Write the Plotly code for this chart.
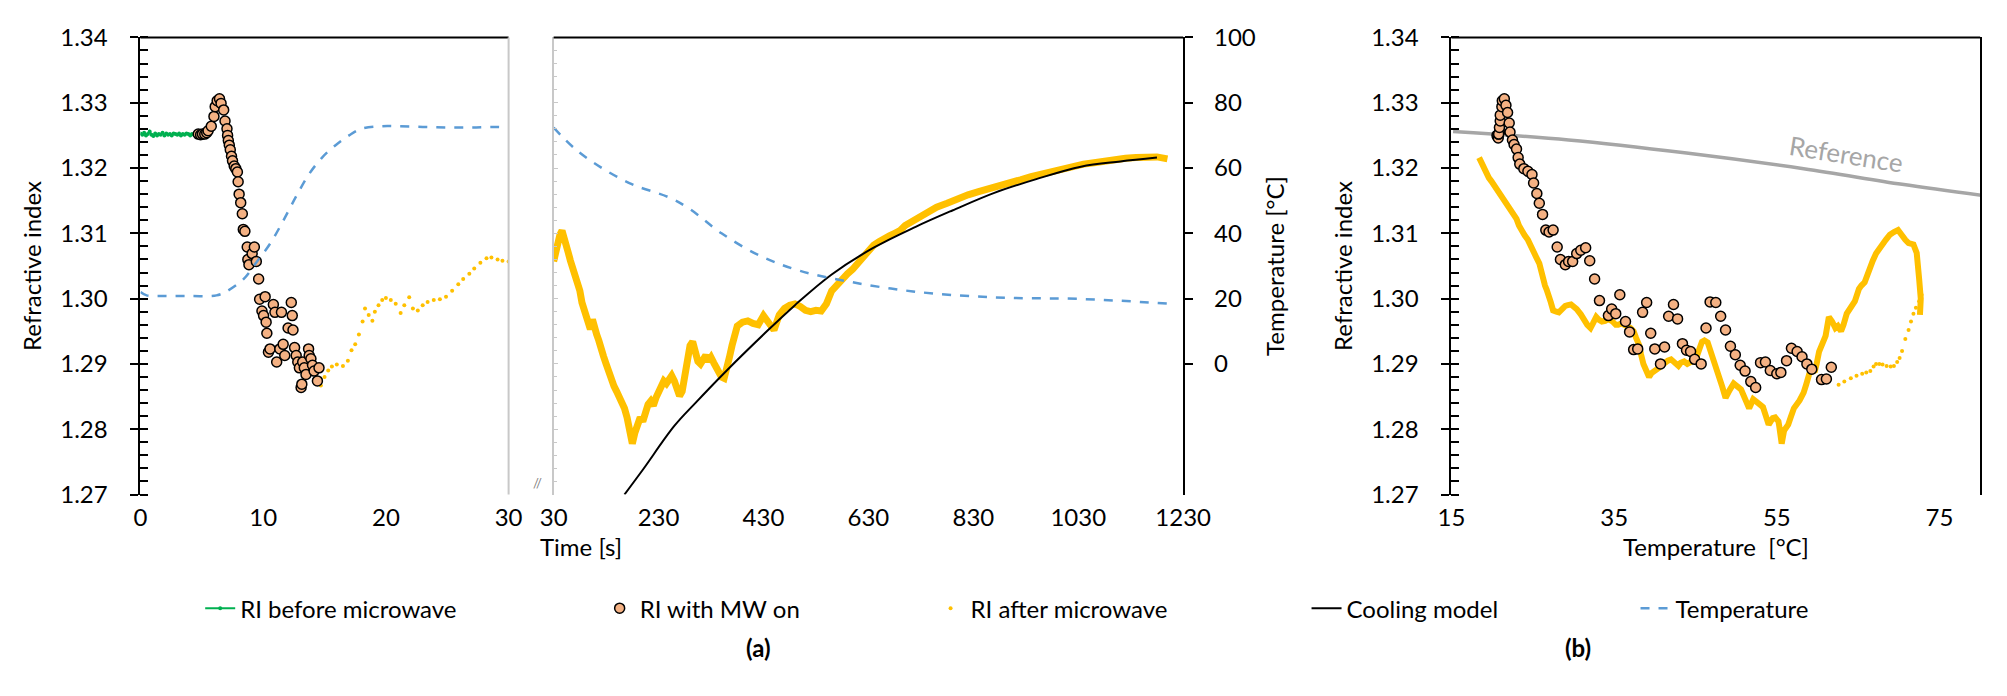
import plotly.graph_objects as go

W, H = 2007, 696

# ---------------- data ----------------
# Panel (a) left: time 0-30 s
t_before = [0.0, 0.15, 0.3, 0.45, 0.6, 0.75, 0.9, 1.05, 1.2, 1.35, 1.5, 1.65, 1.8, 1.95, 2.1, 2.25, 2.4,
            2.55, 2.7, 2.85, 3.0, 3.15, 3.3, 3.45, 3.6, 3.75, 3.9, 4.05, 4.2, 4.35, 4.5, 4.65, 4.8]
ri_before = [1.3253, 1.3251, 1.3254, 1.3250, 1.3252, 1.3256, 1.3251, 1.3249, 1.3253, 1.3250, 1.3252, 1.3251,
             1.3254, 1.3250, 1.3253, 1.3251, 1.3252, 1.3250, 1.3253, 1.3252, 1.3251, 1.3253, 1.3250, 1.3252,
             1.3251, 1.3253, 1.3252, 1.3250, 1.3252, 1.3251, 1.3253, 1.3251, 1.3252]

t_mw = [4.71, 4.9, 5.05, 5.24, 5.4, 5.51, 5.77, 5.99, 6.09, 6.25, 6.44, 6.57, 6.78, 6.89, 7.05, 7.10, 7.16,
        7.24, 7.32, 7.42, 7.50, 7.64, 7.77, 7.90, 7.96, 8.04, 8.17, 8.30, 8.38, 8.51, 8.70, 8.75, 8.84,
        9.10, 9.28, 9.44, 9.63, 9.71, 9.90, 10.16, 10.03, 10.24, 10.30, 10.43, 10.56, 10.83, 10.96, 11.10,
        11.36, 11.49, 11.63, 11.76, 12.03, 12.29, 12.37, 12.43, 12.56, 12.69, 12.82, 12.95, 13.09, 13.15,
        13.22, 13.35, 13.49, 13.70, 13.75, 13.89, 14.02, 14.15, 14.42, 14.55]
ri_mw = [1.3252, 1.3251, 1.3252, 1.3252, 1.3254, 1.3257, 1.3264, 1.3279, 1.3294, 1.3303, 1.3306, 1.3299,
         1.3289, 1.3272, 1.3260, 1.3250, 1.3242, 1.3235, 1.3228, 1.3218, 1.3211, 1.3203, 1.3199, 1.3194,
         1.3179, 1.3160, 1.3147, 1.3130, 1.3106, 1.3103, 1.3079, 1.3060, 1.3052, 1.3069, 1.3079, 1.3057,
         1.3030, 1.2999, 1.2981, 1.3003, 1.2974, 1.2964, 1.2947, 1.2918, 1.2923, 1.2991, 1.2979, 1.2903,
         1.2923, 1.2979, 1.2930, 1.2913, 1.2955, 1.2994, 1.2974, 1.2952, 1.2925, 1.2913, 1.2903, 1.2894,
         1.2864, 1.2869, 1.2903, 1.2894, 1.2884, 1.2923, 1.2913, 1.2908, 1.2898, 1.2889, 1.2874, 1.2894]

t_after1 = [14.7, 15.0, 15.3, 15.6, 16.0, 16.5, 16.9, 17.2, 17.5, 17.8, 18.1, 18.3, 18.6, 18.9, 19.1, 19.4,
            19.7, 20.0, 20.4, 20.8, 21.2, 21.5, 21.9, 22.2, 22.6, 23.0, 23.4, 23.9, 24.4, 24.9, 25.4, 25.9,
            26.3, 26.8, 27.2, 27.7, 28.2, 28.6, 29.1, 29.5, 30.0]
ri_after1 = [1.2867, 1.2880, 1.2890, 1.2896, 1.2899, 1.2897, 1.2905, 1.2921, 1.2930, 1.2945, 1.2965, 1.2985,
             1.2975, 1.2966, 1.2980, 1.2990, 1.2998, 1.3001, 1.2998, 1.2992, 1.2978, 1.2990, 1.3002, 1.2985,
             1.2982, 1.2990, 1.2995, 1.2998, 1.2999, 1.3003, 1.3012, 1.3022, 1.3030, 1.3038, 1.3046, 1.3055,
             1.3062, 1.3063, 1.3060, 1.3058, 1.3057]

t_temp1 = [0, 0.5, 2, 4, 6.2, 7.1, 8.4, 9.5, 10.56, 11.6, 12.7, 13.75, 14.8, 15.9, 17.0, 18.0, 19.6, 21, 23,
           25, 27, 29, 30]
temp1 = [22.0, 21.0, 20.8, 20.8, 21.0, 22.4, 26.0, 31.4, 36.8, 43.6, 51.4, 58.2, 63.2, 67.0, 70.0, 72.0,
         72.8, 72.8, 72.6, 72.4, 72.4, 72.6, 72.4]

# Panel (a) right: time 30-1230 s
t_after2 = [30, 34, 38, 42, 46, 50, 54, 58, 62, 66, 70, 75, 80, 84, 88, 92, 96, 100, 104, 108, 112, 116, 120,
            125, 130, 135, 140, 145, 150, 155, 160, 165, 170, 175, 180, 185, 190, 195, 200, 205, 210, 215,
            220, 225, 230, 235, 240, 245, 250, 255, 260, 265, 270, 275, 280, 285, 290, 295, 300, 305, 310,
            315, 320, 325, 330, 335, 340, 345, 350, 355, 360, 365, 370, 375, 380, 390, 400, 410, 420, 430,
            440, 450, 460, 470, 480, 490, 500, 510, 520, 530, 540, 550, 560, 570, 580, 590, 600, 610, 620,
            630, 640, 650, 660, 670, 680, 690, 700, 720, 740, 760, 780, 800, 820, 840, 860, 880, 900, 920,
            940, 960, 980, 1000, 1020, 1040, 1060, 1080, 1100, 1120, 1140, 1160, 1180, 1200]
ri_after2 = [1.3057, 1.3075, 1.3086, 1.3098, 1.3104, 1.3095, 1.3083, 1.3070, 1.3058, 1.3048, 1.3040, 1.3026,
             1.3012, 1.2994, 1.2982, 1.2972, 1.2960, 1.2953, 1.2968, 1.2960, 1.2945, 1.2936, 1.2928, 1.2912,
             1.2900, 1.2888, 1.2872, 1.2866, 1.2858, 1.2850, 1.2845, 1.2832, 1.2818, 1.2800, 1.2778, 1.2795,
             1.2812, 1.2818, 1.2812, 1.2826, 1.2838, 1.2843, 1.2836, 1.2848, 1.2856, 1.2868, 1.2874, 1.2870,
             1.2878, 1.2882, 1.2874, 1.2862, 1.2851, 1.2858, 1.2880, 1.2905, 1.2928, 1.2934, 1.2918, 1.2904,
             1.2900, 1.2908, 1.2913, 1.2904, 1.2910, 1.2902, 1.2894, 1.2886, 1.2880, 1.2878, 1.2890, 1.2910,
             1.2928, 1.2945, 1.2958, 1.2964, 1.2966, 1.2962, 1.2960, 1.2974, 1.2962, 1.2952, 1.2975, 1.2985,
             1.2990, 1.2992, 1.2988, 1.2982, 1.2980, 1.2982, 1.2981, 1.2992, 1.3012, 1.3022, 1.3028, 1.3038,
             1.3045, 1.3055, 1.3066, 1.3076, 1.3082, 1.3087, 1.3093, 1.3096, 1.3100, 1.3104, 1.3112, 1.3122,
             1.3132, 1.3140, 1.3146, 1.3154, 1.3159, 1.3164, 1.3168, 1.3172, 1.3178, 1.3182, 1.3187, 1.3191,
             1.3195, 1.3200, 1.3203, 1.3206, 1.3208, 1.3211, 1.3213, 1.3215, 1.3216, 1.3217, 1.3217, 1.3214]

t_model = [165, 200, 260, 300, 360, 430, 490, 560, 640, 720, 790, 870, 950, 1035, 1110, 1180]
ri_model = [1.2700, 1.2738, 1.2805, 1.2840, 1.2890, 1.2945, 1.2990, 1.3037, 1.3078, 1.3110, 1.3135, 1.3162,
            1.3183, 1.3202, 1.3210, 1.3216]

t_temp2 = [30, 70, 120, 180, 250, 290, 350, 425, 500, 600, 715, 830, 910, 1035, 1200]
temp2 = [72.4, 66.0, 60.2, 55.0, 51.0, 47.4, 40.0, 33.0, 28.5, 25.0, 22.2, 20.7, 20.2, 19.9, 18.5]

# Panel (b): RI vs temperature
T_ref = [15.2, 29.4, 43.9, 58.3, 70.4, 80.2]
ri_ref = [1.3256, 1.3243, 1.3223, 1.3199, 1.3175, 1.3158]

T_mw3 = [20.6, 20.7, 20.75, 20.8, 20.9, 20.8, 20.9, 21.0, 21.0, 21.2, 21.25, 21.5, 21.7, 21.9, 22.1, 22.2,
         22.5, 22.7, 23.0, 23.2, 23.4, 23.9, 24.4, 24.9, 25.1, 25.5, 25.8, 26.2, 26.6, 27.0, 27.5, 28.0,
         28.4, 29.0, 29.4, 29.9, 30.4, 30.9, 31.5, 32.0, 32.6, 33.2, 34.3, 34.7, 35.2, 35.7, 36.4, 36.9,
         37.4, 37.9, 38.5, 39.0, 39.5, 40.0, 40.7, 41.2, 41.7, 42.3, 42.8, 43.4, 43.9, 44.4, 44.9, 45.7,
         46.3, 46.8, 47.5, 48.1, 48.7, 49.3, 49.9, 50.5, 51.1, 51.8, 52.4, 53.0, 53.6, 54.2, 55.0, 55.5,
         56.2, 56.8, 57.5, 58.1, 58.7, 59.3, 60.5, 61.1, 61.7]
ri_mw3 = [1.3250, 1.3248, 1.3246, 1.3252, 1.3255, 1.3252, 1.3262, 1.3272, 1.3281, 1.3294, 1.3303, 1.3306,
          1.3296, 1.3285, 1.3269, 1.3255, 1.3243, 1.3236, 1.3229, 1.3216, 1.3206, 1.3199, 1.3195, 1.3190,
          1.3177, 1.3161, 1.3146, 1.3129, 1.3105, 1.3102, 1.3105, 1.3079, 1.3060, 1.3052, 1.3057, 1.3057,
          1.3069, 1.3074, 1.3078, 1.3058, 1.3030, 1.2997, 1.2974, 1.2984, 1.2977, 1.3006, 1.2965, 1.2949,
          1.2922, 1.2923, 1.2979, 1.2994, 1.2947, 1.2923, 1.2900, 1.2926, 1.2973, 1.2991, 1.2969, 1.2931,
          1.2921, 1.2919, 1.2907, 1.2900, 1.2955, 1.2995, 1.2994, 1.2973, 1.2952, 1.2927, 1.2914, 1.2898,
          1.2889, 1.2873, 1.2864, 1.2902, 1.2903, 1.2890, 1.2885, 1.2887, 1.2905, 1.2924, 1.2919, 1.2911,
          1.2900, 1.2892, 1.2876, 1.2877, 1.2895]

T_after3a = [62.6, 63.3, 64.1, 64.8, 65.5, 66.0, 66.5, 66.9, 67.2, 67.6, 68.0, 68.5, 69.0, 69.4, 69.8, 70.1,
             70.4, 70.8, 71.2, 71.5, 71.8, 72.1, 72.5, 72.8]
ri_after3a = [1.2868, 1.2873, 1.2878, 1.2882, 1.2885, 1.2887, 1.2889, 1.2896, 1.2900, 1.2900, 1.2899, 1.2897,
              1.2896, 1.2897, 1.2903, 1.2909, 1.2920, 1.2938, 1.2952, 1.2965, 1.2977, 1.2986, 1.2996, 1.3006]

T_after3b = [72.6, 72.7, 72.5, 72.4, 72.2, 71.8, 71.2, 70.8, 70.4, 69.9, 69.4, 68.9, 68.4, 68.0, 67.6, 67.2,
             66.8, 66.5, 66.1, 65.8, 65.4, 65.1, 64.6, 64.1, 63.6, 63.2, 62.9, 62.5, 62.2, 61.8, 61.4, 61.0,
             60.6, 60.2, 59.9, 59.7, 59.3, 59.0, 58.6, 58.3, 57.8, 57.4, 57.1, 56.7, 56.4, 55.9, 55.6, 55.3,
             55.2, 54.8, 54.5, 54.0, 53.6, 53.3, 52.9, 52.5, 52.1, 51.6, 51.1, 50.6, 50.1, 49.7, 49.2, 48.7,
             48.3, 48.0, 47.6, 47.2, 46.8, 46.5, 46.1, 45.8, 45.4, 45.1, 44.7, 44.4, 44.0, 43.6, 43.2, 42.9,
             42.4, 42.0, 41.6, 41.2, 40.9, 40.5, 40.0, 39.6, 39.3, 38.9, 38.6, 38.3, 38.1, 37.7, 37.4, 37.0,
             36.7, 36.3, 35.9, 35.5, 35.2, 34.8, 34.3, 33.9, 33.5, 33.1, 32.8, 32.4, 32.1, 31.7, 31.4, 30.9,
             30.4, 30.0, 29.7, 29.3, 29.0, 28.6, 28.2, 27.9, 27.5, 27.2, 27.0, 26.7, 26.5, 26.1, 25.8, 25.4,
             25.1, 24.8, 24.4, 24.0, 23.7, 23.3, 23.0, 22.5, 22.0, 21.6, 21.3, 20.8, 20.3, 19.9, 19.6, 19.2,
             18.9, 18.6, 18.4]
ri_after3b = [1.2975, 1.3000, 1.3030, 1.3057, 1.3070, 1.3083, 1.3085, 1.3090, 1.3098, 1.3105, 1.3102, 1.3098,
              1.3090, 1.3083, 1.3075, 1.3069, 1.3058, 1.3049, 1.3035, 1.3025, 1.3020, 1.3015, 1.2996, 1.2985,
              1.2977, 1.2960, 1.2950, 1.2958, 1.2955, 1.2965, 1.2972, 1.2943, 1.2930, 1.2919, 1.2900, 1.2890,
              1.2888, 1.2885, 1.2868, 1.2856, 1.2844, 1.2838, 1.2832, 1.2818, 1.2807, 1.2798, 1.2778, 1.2805,
              1.2812, 1.2818, 1.2817, 1.2807, 1.2822, 1.2834, 1.2838, 1.2841, 1.2846, 1.2832, 1.2848, 1.2861,
              1.2866, 1.2870, 1.2860, 1.2848, 1.2865, 1.2877, 1.2892, 1.2909, 1.2922, 1.2933, 1.2936, 1.2934,
              1.2920, 1.2909, 1.2905, 1.2902, 1.2900, 1.2904, 1.2902, 1.2897, 1.2903, 1.2907, 1.2905, 1.2902,
              1.2898, 1.2894, 1.2890, 1.2886, 1.2880, 1.2890, 1.2900, 1.2915, 1.2928, 1.2940, 1.2950, 1.2955,
              1.2957, 1.2960, 1.2962, 1.2960, 1.2960, 1.2965, 1.2969, 1.2966, 1.2965, 1.2968, 1.2972, 1.2962,
              1.2955, 1.2960, 1.2967, 1.2976, 1.2984, 1.2988, 1.2991, 1.2990, 1.2989, 1.2984, 1.2979, 1.2980,
              1.2982, 1.2995, 1.3006, 1.3014, 1.3020, 1.3040, 1.3054, 1.3064, 1.3073, 1.3080, 1.3090, 1.3097,
              1.3102, 1.3112, 1.3122, 1.3132, 1.3141, 1.3148, 1.3153, 1.3165, 1.3175, 1.3180, 1.3185, 1.3195,
              1.3204, 1.3212, 1.3216]

ri_ticks = [1.27, 1.28, 1.29, 1.30, 1.31, 1.32, 1.33, 1.34]
time_ticks_a = [0, 10, 20, 30]
time_ticks_b = [30, 230, 430, 630, 830, 1030, 1230]
temp_ticks = [0, 20, 40, 60, 80, 100]
T_ticks = [15, 35, 55, 75]

# ---------------- styling ----------------
FONT = "Lato"
GREEN = "#00B050"
ORANGE = "#F4B183"
YELLOW = "#FFC000"
BLUE = "#5B9BD5"
GREYREF = "#A6A6A6"
SEP = "#C8C8C8"


def px(x):
    return x / W


def py(y):
    return 1 - y / H


P1 = [px(121), px(497)]
P2 = [px(543), px(1186)]
P3 = [px(1460), px(2000)]
YD = [py(491), py(14)]

fig = go.Figure()

# panel 1
fig.add_trace(go.Scatter(x=t_temp1, y=temp1, mode="lines", line=dict(color=BLUE, width=2.5, dash="dash", shape="spline"),
                         name="Temperature", xaxis="x", yaxis="y2", legend="legend5"))
fig.add_trace(go.Scatter(x=t_before, y=ri_before, mode="lines+markers", line=dict(color=GREEN, width=2),
                         marker=dict(color=GREEN, size=4), name="RI before microwave", xaxis="x", yaxis="y",
                         legend="legend"))
fig.add_trace(go.Scatter(x=t_after1, y=ri_after1, mode="markers", marker=dict(color=YELLOW, size=4),
                         name="RI after microwave", xaxis="x", yaxis="y", legend="legend3"))
fig.add_trace(go.Scatter(x=t_mw, y=ri_mw, mode="markers",
                         marker=dict(color=ORANGE, size=10, line=dict(color="black", width=1.5)),
                         name="RI with MW on", xaxis="x", yaxis="y", legend="legend2"))

# panel 2
fig.add_trace(go.Scatter(x=t_temp2, y=temp2, mode="lines", line=dict(color=BLUE, width=2.5, dash="dash", shape="spline"),
                         showlegend=False, xaxis="x2", yaxis="y5"))
fig.add_trace(go.Scatter(x=t_after2, y=ri_after2, mode="lines", line=dict(color=YELLOW, width=7),
                         showlegend=False, xaxis="x2", yaxis="y4"))
fig.add_trace(go.Scatter(x=t_model, y=ri_model, mode="lines", line=dict(color="black", width=2, shape="spline"),
                         name="Cooling model", xaxis="x2", yaxis="y4", legend="legend4"))

# panel 3
fig.add_trace(go.Scatter(x=T_ref, y=ri_ref, mode="lines", line=dict(color=GREYREF, width=3.5, shape="spline"),
                         showlegend=False, xaxis="x3", yaxis="y6"))
fig.add_trace(go.Scatter(x=T_after3b, y=ri_after3b, mode="lines", line=dict(color=YELLOW, width=6),
                         showlegend=False, xaxis="x3", yaxis="y6"))
fig.add_trace(go.Scatter(x=T_after3a, y=ri_after3a, mode="markers", marker=dict(color=YELLOW, size=4),
                         showlegend=False, xaxis="x3", yaxis="y6"))
fig.add_trace(go.Scatter(x=T_mw3, y=ri_mw3, mode="markers",
                         marker=dict(color=ORANGE, size=10, line=dict(color="black", width=1.5)),
                         showlegend=False, xaxis="x3", yaxis="y6"))

tickfont = dict(family=FONT, size=24, color="black")
titlefont = dict(family=FONT, size=24, color="black")

ri_axis = dict(domain=YD, range=[1.27, 1.34], tickvals=ri_ticks, tickformat=".2f", showline=True,
               linecolor="black", linewidth=2, ticks="outside", ticklen=8, tickwidth=2, tickcolor="black",
               minor=dict(dtick=0.002, ticks="inside", ticklen=8, tickwidth=1.5, tickcolor="black"),
               showgrid=False, zeroline=False, tickfont=tickfont, ticklabelstandoff=18,
               ticklabeloverflow="allow",
               title=dict(text="Refractive index", font=titlefont, standoff=12))

xbase = dict(showline=False, ticks="", showgrid=False, zeroline=False, tickfont=tickfont, ticklabelstandoff=6,
             ticklabeloverflow="allow")

layout = dict(
    width=W, height=H, margin=dict(l=0, r=0, t=0, b=0),
    paper_bgcolor="white", plot_bgcolor="rgba(0,0,0,0)",
    font=dict(family=FONT, size=24, color="black"),
    xaxis=dict(xbase, domain=P1, range=[0, 30], tickvals=time_ticks_a, anchor="y"),
    yaxis=dict(ri_axis, anchor="x"),
    yaxis2=dict(overlaying="y", range=[-40, 100], visible=False, anchor="x"),
    yaxis3=dict(overlaying="y", side="right", anchor="x", range=[1.27, 1.34], tickvals=ri_ticks,
                showline=False, ticks="outside", ticklen=3, tickcolor=SEP,
                showticklabels=False, showgrid=False, zeroline=False),
    xaxis2=dict(xbase, domain=P2, range=[30, 1230], tickvals=time_ticks_b, anchor="y4"),
    yaxis4=dict(domain=YD, range=[1.27, 1.34], anchor="x2", showline=True, linecolor=SEP, linewidth=2,
                tickvals=ri_ticks, ticks="inside", ticklen=4, tickcolor=SEP,
                minor=dict(dtick=0.002, ticks="inside", ticklen=3, tickcolor=SEP),
                showticklabels=False, showgrid=False, zeroline=False),
    yaxis5=dict(overlaying="y4", side="right", anchor="x2", range=[-40, 100], tickvals=temp_ticks,
                showline=True, linecolor="black", linewidth=2, ticks="outside", ticklen=8, tickwidth=2,
                tickcolor="black", showgrid=False, zeroline=False, tickfont=tickfont, ticklabelstandoff=16,
                ticklabeloverflow="allow",
                title=dict(text="Temperature [°C]", font=titlefont, standoff=12)),
    xaxis3=dict(xbase, domain=P3, range=[15, 80], tickvals=T_ticks, anchor="y6"),
    yaxis6=dict(ri_axis, anchor="x3", mirror=True),
)

# legends (one per item, placed along the bottom row)
leg_y = py(610)
leg_starts = {"legend": 226, "legend2": 634, "legend3": 972, "legend4": 1356, "legend5": 1692}
for key, xs in leg_starts.items():
    layout[key] = dict(x=px(xs - 44), y=leg_y, xanchor="left", yanchor="middle", orientation="h",
                       bgcolor="rgba(0,0,0,0)", font=dict(family=FONT, size=24, color="black"))

fig.update_layout(**layout)

# borders
for xr, yr in [("x", "y"), ("x2", "y4"), ("x3", "y6")]:
    fig.add_shape(type="line", xref=f"{xr} domain", yref=f"{yr} domain", x0=0, x1=1, y0=1, y1=1,
                  line=dict(color="black", width=2))
fig.add_shape(type="line", xref="x domain", yref="y domain", x0=1, x1=1, y0=0, y1=1,
              line=dict(color=SEP, width=2))

ann = [
    dict(text="Time [s]", x=px(571), y=py(545), xref="paper", yref="paper", showarrow=False,
         font=titlefont, xanchor="center", yanchor="middle"),
    dict(text="Temperature  [°C]", x=px(1730), y=py(545), xref="paper", yref="paper", showarrow=False,
         font=titlefont, xanchor="center", yanchor="middle"),
    dict(text="<b>(a)</b>", x=px(752), y=py(668), xref="paper", yref="paper", showarrow=False,
         font=dict(family=FONT, size=24, color="black")),
    dict(text="<b>(b)</b>", x=px(1605), y=py(668), xref="paper", yref="paper", showarrow=False,
         font=dict(family=FONT, size=24, color="black")),
    dict(text="Reference", x=63.6, y=1.3222, xref="x3", yref="y6", showarrow=False, textangle=9,
         font=dict(family=FONT, size=26, color=GREYREF)),
    dict(text="//", x=px(520), y=py(489), xref="paper", yref="paper", showarrow=False,
         font=dict(family=FONT, size=13, color="#808080")),
]
fig.update_layout(annotations=ann)

fig.write_html("out.html")
